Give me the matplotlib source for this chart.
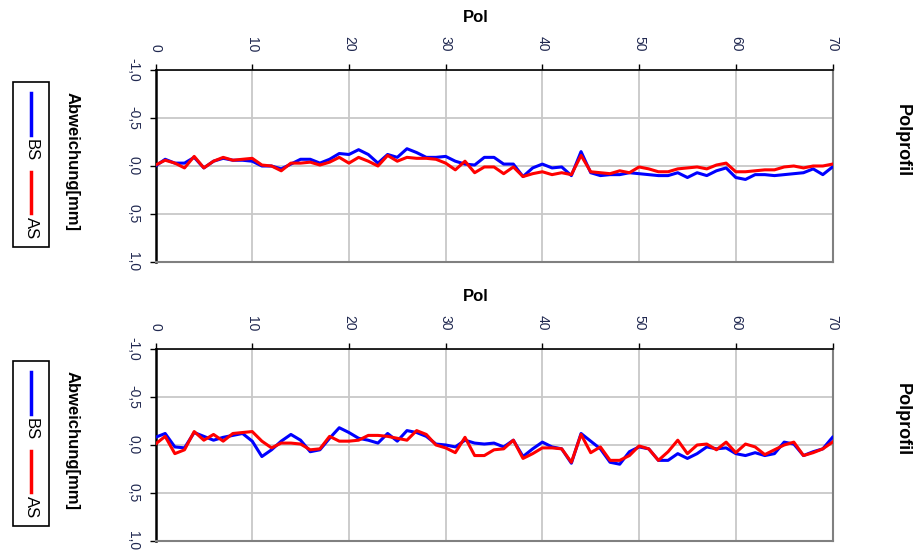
import matplotlib.pyplot as plt
from matplotlib.lines import Line2D
from matplotlib.patches import Rectangle
import numpy as np

plt.rcParams["font.family"] = ["Liberation Sans", "DejaVu Sans"]

COLOR_BS = "#0000ff"
COLOR_AS = "#ff0000"
COLOR_GRID = "#c8c8c8"
COLOR_TICK = "#202850"

pol = np.arange(0, 71)

# upper profile
bs_top = [0.0, -0.07, -0.03, -0.03, -0.09, 0.02, -0.05, -0.08, -0.06, -0.06,
          -0.05, 0.0, 0.0, 0.03, -0.02, -0.07, -0.07, -0.03, -0.07, -0.13,
          -0.12, -0.17, -0.12, -0.03, -0.12, -0.09, -0.18, -0.14, -0.09, -0.09,
          -0.10, -0.05, -0.02, -0.01, -0.09, -0.09, -0.02, -0.02, 0.11, 0.02,
          -0.02, 0.02, 0.01, 0.10, -0.15, 0.07, 0.10, 0.09, 0.09, 0.07,
          0.08, 0.09, 0.10, 0.10, 0.07, 0.12, 0.07, 0.10, 0.05, 0.02,
          0.12, 0.14, 0.09, 0.09, 0.10, 0.09, 0.08, 0.07, 0.03, 0.09,
          0.01]
as_top = [-0.01, -0.06, -0.03, 0.02, -0.10, 0.02, -0.05, -0.09, -0.06, -0.07,
          -0.08, -0.01, 0.0, 0.05, -0.03, -0.03, -0.04, -0.01, -0.04, -0.09,
          -0.03, -0.09, -0.05, 0.0, -0.11, -0.05, -0.09, -0.08, -0.08, -0.07,
          -0.03, 0.04, -0.05, 0.07, 0.01, 0.01, 0.08, 0.01, 0.11, 0.08,
          0.06, 0.09, 0.07, 0.09, -0.11, 0.06, 0.07, 0.08, 0.05, 0.07,
          0.01, 0.03, 0.06, 0.06, 0.03, 0.02, 0.01, 0.03, -0.01, -0.03,
          0.06, 0.06, 0.05, 0.04, 0.04, 0.01, 0.0, 0.02, 0.0, 0.0,
          -0.02]

# lower profile
bs_bot = [-0.08, -0.12, 0.02, 0.03, -0.13, -0.09, -0.05, -0.08, -0.10, -0.12,
          -0.04, 0.12, 0.05, -0.04, -0.11, -0.05, 0.07, 0.05, -0.07, -0.18,
          -0.13, -0.07, -0.05, -0.02, -0.12, -0.04, -0.15, -0.13, -0.09, -0.01,
          0.0, 0.02, -0.05, -0.02, -0.01, -0.02, 0.02, -0.05, 0.12, 0.04,
          -0.03, 0.02, 0.04, 0.19, -0.12, -0.04, 0.04, 0.18, 0.20, 0.07,
          0.02, 0.04, 0.16, 0.16, 0.09, 0.14, 0.09, 0.02, 0.04, 0.03,
          0.09, 0.11, 0.08, 0.11, 0.09, -0.03, -0.01, 0.11, 0.07, 0.04,
          -0.08]
as_bot = [-0.01, -0.09, 0.09, 0.05, -0.14, -0.05, -0.11, -0.04, -0.12, -0.13,
          -0.14, -0.04, 0.03, -0.02, -0.02, -0.01, 0.05, 0.04, -0.09, -0.04,
          -0.04, -0.05, -0.10, -0.10, -0.09, -0.07, -0.05, -0.15, -0.11, 0.0,
          0.03, 0.08, -0.08, 0.11, 0.11, 0.05, 0.04, -0.05, 0.14, 0.09,
          0.03, 0.03, 0.04, 0.18, -0.11, 0.08, 0.02, 0.16, 0.16, 0.11,
          0.01, 0.04, 0.16, 0.07, -0.05, 0.09, 0.0, -0.01, 0.05, -0.03,
          0.08, -0.01, 0.02, 0.10, 0.05, 0.0, -0.03, 0.11, 0.08, 0.04,
          -0.03]

x_ticks = [0, 10, 20, 30, 40, 50, 60, 70]
y_ticks = [-1.0, -0.5, 0.0, 0.5, 1.0]
y_tick_labels = ["-1,0", "-0,5", "0,0", "0,5", "1,0"]

W, H = 916, 554
fig = plt.figure(figsize=(W / 100, H / 100), dpi=100)

panels = [(70, 262, bs_top, as_top), (349, 541, bs_bot, as_bot)]

for top, bottom, bs, as_ in panels:
    ax = fig.add_axes([155.5 / W, 1 - bottom / H, 677 / W, (bottom - top) / H])
    ax.plot(pol, bs, color=COLOR_BS, lw=2.2, zorder=3)
    ax.plot(pol, as_, color=COLOR_AS, lw=2.2, zorder=4)

    ax.set_xlim(0, 70)
    ax.set_ylim(1.0, -1.0)
    ax.set_xticks(x_ticks)
    ax.set_yticks(y_ticks)
    ax.set_yticklabels(y_tick_labels)
    ax.grid(True, color=COLOR_GRID, lw=1.3)
    ax.set_axisbelow(True)

    ax.xaxis.tick_top()
    ax.tick_params(axis="x", top=True, bottom=False, labeltop=True, labelbottom=False,
                   direction="out", length=4, width=1, pad=9, labelsize=10,
                   labelcolor=COLOR_TICK, labelrotation=-90)
    ax.tick_params(axis="y", direction="out", length=4, width=1, pad=7,
                   labelsize=10, labelcolor=COLOR_TICK, labelrotation=-90)
    for lab in ax.get_yticklabels():
        lab.set_va("center")

    ax.spines["left"].set_color("black")
    ax.spines["left"].set_linewidth(1.8)
    ax.spines["top"].set_color("black")
    ax.spines["top"].set_linewidth(1.2)
    for s in ("right", "bottom"):
        ax.spines[s].set_color("#808080")
        ax.spines[s].set_linewidth(1.5)

    ax.set_xlabel("Pol", fontsize=12, fontweight="bold")
    ax.xaxis.set_label_position("top")
    ax.xaxis.set_label_coords(0.473, 1.273)
    ax.xaxis.label.set_va("center")

    ax.set_ylabel("Abweichung[mm]", fontsize=12, fontweight="bold", rotation=-90)
    ax.yaxis.set_label_coords(-0.1226, 0.526)
    ax.yaxis.label.set_va("center")
    ax.yaxis.label.set_ha("center")

    ax.text(1.103, 0.635, "Polprofil", transform=ax.transAxes, rotation=-90,
            fontsize=13, fontweight="bold", ha="center", va="center")

    # rotated legend, drawn by hand
    ph = bottom - top

    def fx(px):
        return (px - 155.5) / 677

    def fy(py):
        return (bottom - (top + py)) / ph

    ax.add_patch(Rectangle((fx(13), fy(177)), fx(49) - fx(13), fy(12) - fy(177),
                           transform=ax.transAxes, fill=False, ec="black", lw=1.2,
                           clip_on=False))
    ax.add_line(Line2D([fx(31), fx(31)], [fy(23), fy(65)], transform=ax.transAxes,
                       color=COLOR_BS, lw=2.5, clip_on=False))
    ax.add_line(Line2D([fx(31), fx(31)], [fy(102), fy(143)], transform=ax.transAxes,
                       color=COLOR_AS, lw=2.5, clip_on=False))
    ax.text(fx(31.5), fy(80), "BS", transform=ax.transAxes, rotation=-90,
            fontsize=12, ha="center", va="center")
    ax.text(fx(31.5), fy(158), "AS", transform=ax.transAxes, rotation=-90,
            fontsize=12, ha="center", va="center")

plt.savefig("out.png", dpi=100)
plt.close(fig)
